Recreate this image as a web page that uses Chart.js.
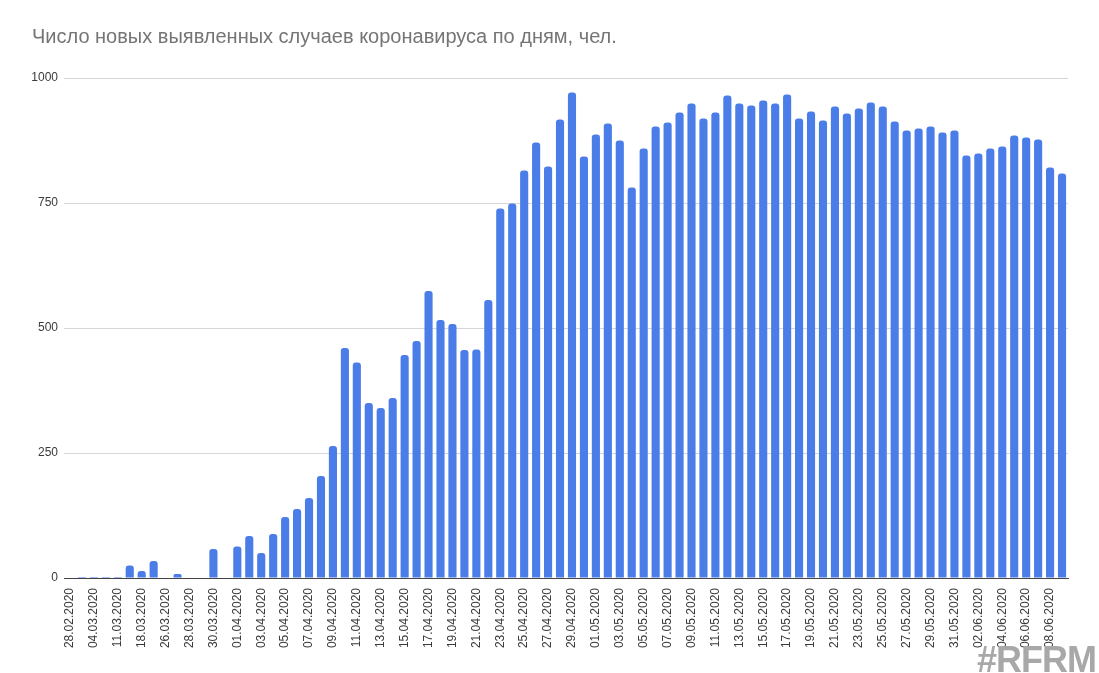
<!DOCTYPE html>
<html>
<head>
<meta charset="utf-8">
<script src="https://cdn.jsdelivr.net/npm/chart.js@4/dist/chart.umd.min.js"></script>
<style>
  html, body { margin: 0; padding: 0; background: #fff; }
  #wrap { position: relative; width: 1099px; height: 673px; overflow: hidden; }
  #title { position: absolute; left: 32px; top: 25px; font: 20px "Liberation Sans", Arial, sans-serif; color: #757575; white-space: nowrap; }
  #mark { position: absolute; right: 3px; top: 639px; font: bold 36px "Liberation Sans", Arial, sans-serif; color: #a8a8a8; letter-spacing: -1px; }
</style>
</head>
<body>
<div id="wrap">
  <div id="title">Число новых выявленных случаев коронавируса по дням, чел.</div>
  <canvas id="chart" width="1099" height="673"></canvas>
  <div id="mark">#RFRM</div>
</div>
<script>
var BLUE = "#4b7de9";
var GRID = "#d6d6d6";
var TEXT = "#3a3a3a";

var dates = [
  "28.02.2020", "02.03.2020", "04.03.2020", "06.03.2020", "11.03.2020", "14.03.2020",
  "18.03.2020", "21.03.2020", "26.03.2020", "27.03.2020", "28.03.2020", "29.03.2020",
  "30.03.2020", "31.03.2020",
  "01.04.2020", "02.04.2020", "03.04.2020", "04.04.2020", "05.04.2020", "06.04.2020",
  "07.04.2020", "08.04.2020", "09.04.2020", "10.04.2020", "11.04.2020", "12.04.2020",
  "13.04.2020", "14.04.2020", "15.04.2020", "16.04.2020", "17.04.2020", "18.04.2020",
  "19.04.2020", "20.04.2020", "21.04.2020", "22.04.2020", "23.04.2020", "24.04.2020",
  "25.04.2020", "26.04.2020", "27.04.2020", "28.04.2020", "29.04.2020", "30.04.2020",
  "01.05.2020", "02.05.2020", "03.05.2020", "04.05.2020", "05.05.2020", "06.05.2020",
  "07.05.2020", "08.05.2020", "09.05.2020", "10.05.2020", "11.05.2020", "12.05.2020",
  "13.05.2020", "14.05.2020", "15.05.2020", "16.05.2020", "17.05.2020", "18.05.2020",
  "19.05.2020", "20.05.2020", "21.05.2020", "22.05.2020", "23.05.2020", "24.05.2020",
  "25.05.2020", "26.05.2020", "27.05.2020", "28.05.2020", "29.05.2020", "30.05.2020",
  "31.05.2020", "01.06.2020", "02.06.2020", "03.06.2020", "04.06.2020", "05.06.2020",
  "06.06.2020", "07.06.2020", "08.06.2020", "09.06.2020"
];

var newCases = [
  0, 2, 2, 2, 2, 25, 14, 34, 0, 8, 0, 0,
  58, 0,
  63, 84, 50, 88, 122, 138, 160, 204, 264, 460, 431, 350,
  340, 360, 446, 474, 574, 516, 508, 456, 457, 556, 739, 749,
  815, 871, 823, 917, 971, 843, 887, 909, 875, 781, 859, 903,
  911, 931, 949, 919, 931, 965, 949, 945, 955, 949, 967, 919,
  933, 915, 943, 929, 939, 951, 943, 913, 895, 899, 903, 891,
  895, 845, 849, 859, 863, 885, 881, 877, 821, 809
];

var yTicks = [0, 250, 500, 750, 1000];

new Chart(document.getElementById("chart"), {
  type: "bar",
  data: {
    labels: dates,
    datasets: [{
      data: newCases,
      backgroundColor: BLUE,
      borderWidth: 0,
      borderRadius: { topLeft: 3, topRight: 3 },
      borderSkipped: "bottom",
      categoryPercentage: 1,
      barPercentage: 0.68
    }]
  },
  options: {
    responsive: false,
    animation: false,
    layout: { padding: { left: 0, right: 31, top: 78, bottom: 0 } },
    plugins: {
      legend: { display: false },
      tooltip: { enabled: false }
    },
    scales: {
      x: {
        grid: { display: false },
        border: { display: true, color: "#444" },
        ticks: {
          autoSkip: false,
          minRotation: 90,
          maxRotation: 90,
          padding: 2,
          color: TEXT,
          font: { family: "'Liberation Sans', Arial, sans-serif", size: 12 },
          callback: function (v, i) { return i % 2 === 0 ? dates[i] : ""; }
        },
        afterFit: function (s) { s.height = 95; }
      },
      y: {
        min: 0,
        max: 1000,
        afterBuildTicks: function (s) {
          s.ticks = yTicks.map(function (v) { return { value: v }; });
        },
        grid: { color: GRID, drawTicks: false },
        border: { display: false },
        ticks: {
          padding: 6,
          color: TEXT,
          font: { family: "'Liberation Sans', Arial, sans-serif", size: 12 },
          callback: function (v) { return String(v); }
        },
        afterFit: function (s) { s.width = 64; }
      }
    }
  }
});
</script>
</body>
</html>
